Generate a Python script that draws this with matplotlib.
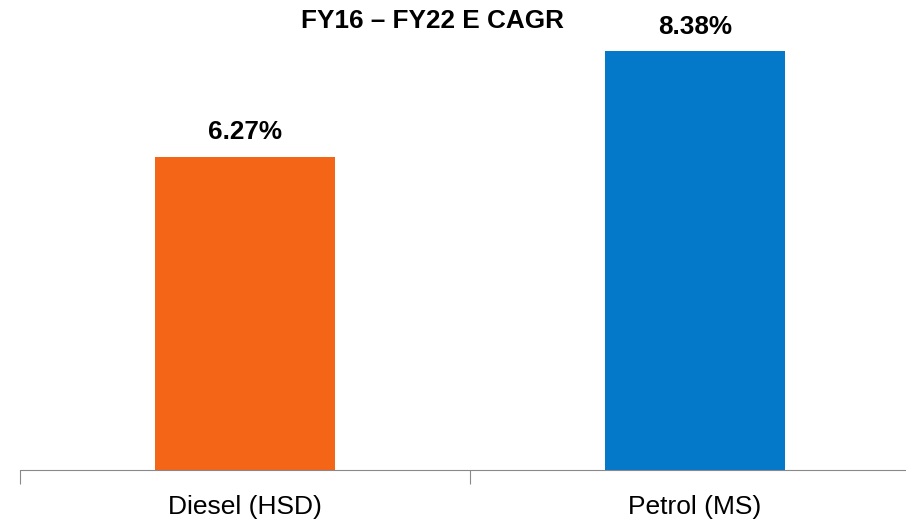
import matplotlib
matplotlib.use('Agg')
import matplotlib.pyplot as plt

plt.rcParams.update({'font.family': ['Liberation Sans', 'DejaVu Sans']})

# data
categories = ['Diesel (HSD)', 'Petrol (MS)']
cagr = [6.27, 8.38]
colors = ['#F46518', '#0479CA']
title = 'FY16 \u2013 FY22 E CAGR'

fig = plt.figure(figsize=(9.06, 5.2), dpi=100)
ax = fig.add_axes([20 / 906, 50 / 520, 900 / 906, 450 / 520])

x = list(range(len(categories)))
bars = ax.bar(x, cagr, width=0.4, color=colors)

for b, v in zip(bars, cagr):
    ax.annotate(f'{v:.2f}%', (b.get_x() + b.get_width() / 2, v),
                xytext=(0, 12.3), textcoords='offset points',
                ha='center', va='baseline', fontsize=18.8, fontweight='bold')

ax.set_xlim(-0.5, 1.5)
ax.set_ylim(0, 9)
ax.set_xticks([-0.5, 0.5, 1.5])
ax.set_xticklabels([])
ax.set_xticks(x, minor=True)
ax.set_xticklabels(categories, minor=True, fontsize=19)
ax.tick_params(axis='x', which='minor', length=0, pad=18)
ax.tick_params(axis='x', which='major', length=10, color='#898989')
ax.set_yticks([])
for s in ['top', 'right', 'left']:
    ax.spines[s].set_visible(False)
ax.spines['bottom'].set_color('#898989')

fig.text(432.5 / 906, 1 - 28 / 520, title, ha='center', va='baseline',
         fontsize=18.8, fontweight='bold')

fig.savefig('out.png', dpi=100)
